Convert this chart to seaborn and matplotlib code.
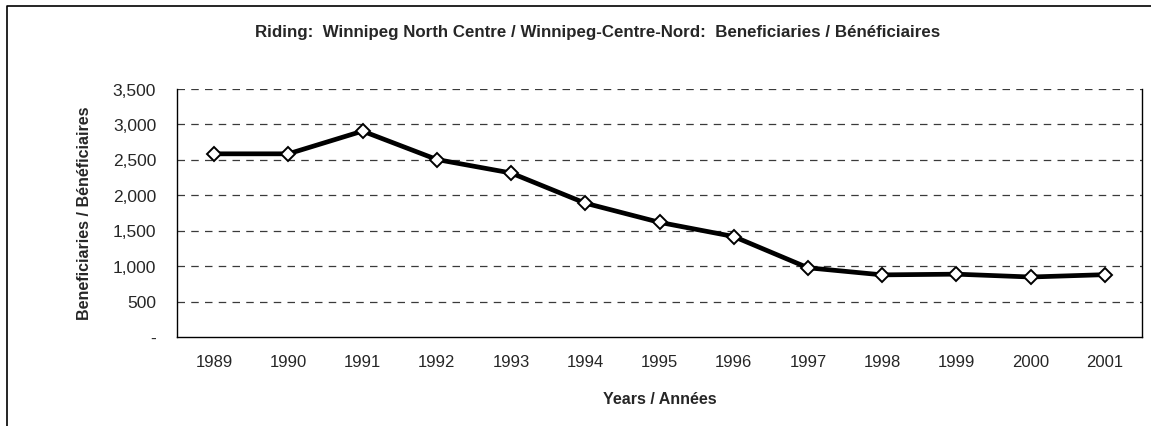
import numpy as np
import pandas as pd
import matplotlib
matplotlib.use("Agg")
import matplotlib.pyplot as plt
from matplotlib.lines import Line2D
from matplotlib.ticker import FuncFormatter
import seaborn as sns

years = ["1989", "1990", "1991", "1992", "1993", "1994", "1995",
         "1996", "1997", "1998", "1999", "2000", "2001"]
beneficiaries = [2580, 2580, 2900, 2500, 2310, 1885, 1615,
                 1415, 975, 875, 885, 845, 878]
y_ticks = [0, 500, 1000, 1500, 2000, 2500, 3000, 3500]

title = "Riding:  Winnipeg North Centre / Winnipeg-Centre-Nord:  Beneficiaries / Bénéficiaires"
x_label = "Years / Années"
y_label = "Beneficiaries / Bénéficiaires"

df = pd.DataFrame({"year": years, "value": beneficiaries})

sns.set_style("white")
plt.rcParams["font.family"] = ["Liberation Sans", "DejaVu Sans"]

fig = plt.figure(figsize=(11.51, 4.27), dpi=100)
ax = fig.add_axes([177 / 1151, 1 - 338 / 427, (1142 - 177) / 1151, (338 - 89.5) / 427])

# dashed gridlines
for v in y_ticks[1:]:
    ax.axhline(v, color="#3a3a3a", lw=0.9, ls=(0, (6, 5)), zorder=0)

sns.lineplot(data=df, x="year", y="value", ax=ax, color="black", lw=3.4,
             marker="D", markersize=7.5, markerfacecolor="white",
             markeredgecolor="black", markeredgewidth=1.4, sort=False)

ax.set_xlim(-0.5, len(years) - 0.5)
ax.set_ylim(0, 3500)
ax.set_yticks(y_ticks)
ax.yaxis.set_major_formatter(FuncFormatter(lambda v, p: "-" if v == 0 else f"{int(v):,}"))
ax.set_xticks(range(len(years)))
ax.set_xticklabels(years)
ax.set_xticks(np.arange(-0.5, len(years), 1.0), minor=True)
ax.tick_params(axis="x", which="major", length=0, pad=12, labelsize=12)
ax.tick_params(axis="x", which="minor", length=5, width=1, direction="out", color="black")
ax.tick_params(axis="y", length=5, width=1, direction="out", color="black", labelsize=12.5, pad=10)
ax.grid(False)

for s in ["left", "bottom", "right"]:
    ax.spines[s].set_color("black")
    ax.spines[s].set_linewidth(1.0)
ax.spines["top"].set_visible(False)

ax.set_xlabel(x_label, fontsize=11.5, fontweight="bold", labelpad=16)
ax.set_ylabel(y_label, fontsize=11.5, fontweight="bold", labelpad=15)

fig.text(598 / 1151, 1 - 33 / 427, title, ha="center", va="center",
         fontsize=12.2, fontweight="bold")

# outer chart frame (left and top edges visible)
fig.add_artist(Line2D([7 / 1151, 7 / 1151, 1.0], [0.0, 1 - 7 / 427, 1 - 7 / 427],
                      transform=fig.transFigure, color="black", lw=1.2))

fig.savefig("out.png", dpi=100)
